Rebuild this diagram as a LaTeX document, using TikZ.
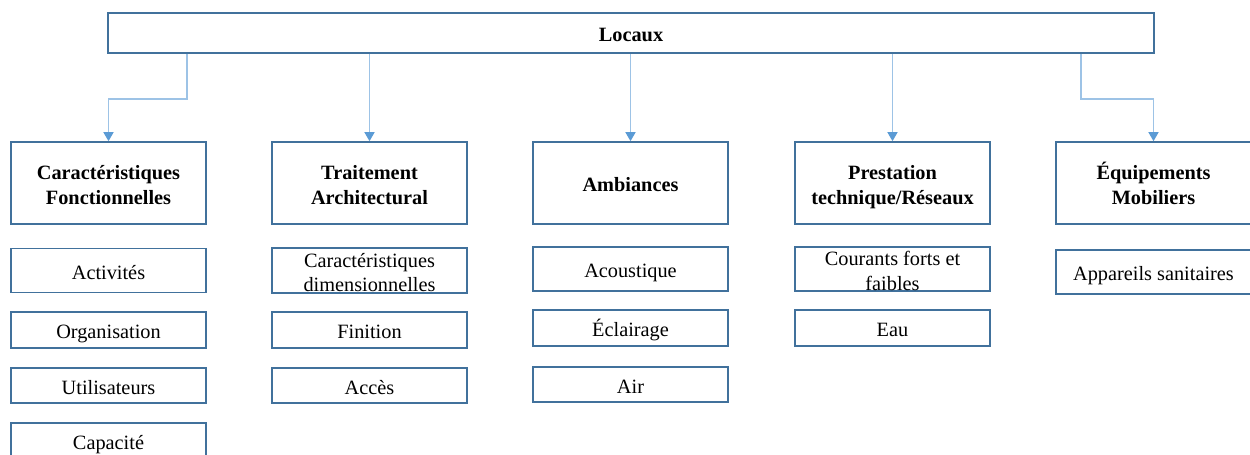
\documentclass[tikz,border=0pt]{standalone}
\usepackage{fontspec}
\setmainfont{Liberation Serif}
\usetikzlibrary{arrows.meta}
\definecolor{boxblue}{HTML}{41719C}
\definecolor{linkblue}{HTML}{9DC3E6}
\definecolor{tipblue}{HTML}{5B9BD5}
\tikzset{
  topbox/.style={draw=boxblue, line width=1.6pt, minimum width=1046pt, minimum height=40pt, inner sep=0pt, font=\fontsize{20.3}{24.5}\selectfont\bfseries},
  headbox/.style={draw=boxblue, line width=1.6pt, minimum width=195pt, minimum height=82pt, inner sep=0pt, align=center, font=\fontsize{20.3}{24.5}\selectfont\bfseries},
  itembox/.style={draw=boxblue, line width=1.6pt, minimum width=195pt, inner sep=0pt, align=center, font=\fontsize{20.3}{24.5}\selectfont},
  onerow/.style={text height=17pt, text depth=0pt},
  tworow/.style={text height=42pt, text depth=0pt},
  link/.style={draw=linkblue, line width=1.4pt, -{Triangle[width=10pt, length=9pt, color=tipblue, fill=tipblue]}}
}
\begin{document}
\begin{tikzpicture}[x=1pt, y=-1pt]
			\useasboundingbox (0,0) rectangle (1250,455);
			
			% sommet
			\node[topbox, onerow] (loc) at (631, 33) {Locaux};
			
			% rubriques
			\node[headbox, tworow] (car) at (108.5, 183) {Caractéristiques\\Fonctionnelles};
			\node[headbox, tworow] (tra) at (369.5, 183) {Traitement\\Architectural};
			\node[headbox, onerow] (amb) at (630.5, 183) {Ambiances};
			\node[headbox, tworow] (pre) at (892.5, 183) {Prestation\\technique/Réseaux};
			\node[headbox, tworow] (equ) at (1153.5, 183) {Équipements\\Mobiliers};
			
			% liens
			\draw[link] ([xshift=-444pt]loc.south) -- ++(0, 45) -| (car.north);
			\draw[link] (loc.south -| tra.north) -- (tra.north);
			\draw[link] (loc.south -| amb.north) -- (amb.north);
			\draw[link] (loc.south -| pre.north) -- (pre.north);
			\draw[link] ([xshift=450pt]loc.south) -- ++(0, 45) -| (equ.north);
			
			% caracteristiques fonctionnelles
			\node[itembox, onerow, minimum height=44pt] (act) at (108.5, 270.5) {Activités};
			\node[itembox, onerow, minimum height=36pt] (org) at (108.5, 330) {Organisation};
			\node[itembox, onerow, minimum height=35pt] (uti) at (108.5, 385.5) {Utilisateurs};
			\node[itembox, onerow, minimum height=36pt] (cap) at (108.5, 441) {Capacité};
			
			% traitement architectural
			\node[itembox, tworow, minimum height=45pt] (dim) at (369.5, 270.5) {Caractéristiques\\dimensionnelles};
			\node[itembox, onerow, minimum height=36pt] (fin) at (369.5, 330) {Finition};
			\node[itembox, onerow, minimum height=35pt] (acc) at (369.5, 385.5) {Accès};
			
			% ambiances
			\node[itembox, onerow, minimum height=44pt] (aco) at (630.5, 269) {Acoustique};
			\node[itembox, onerow, minimum height=36pt] (ecl) at (630.5, 328) {Éclairage};
			\node[itembox, onerow, minimum height=35pt] (air) at (630.5, 384.5) {Air};
			
			% prestation technique
			\node[itembox, tworow, minimum height=44pt] (cou) at (892.5, 269) {Courants forts et\\faibles};
			\node[itembox, onerow, minimum height=36pt] (eau) at (892.5, 328) {Eau};
			
			% equipements
			\node[itembox, onerow, minimum height=44pt] (san) at (1153.5, 272) {Appareils sanitaires};
			
\end{tikzpicture}
\end{document}
